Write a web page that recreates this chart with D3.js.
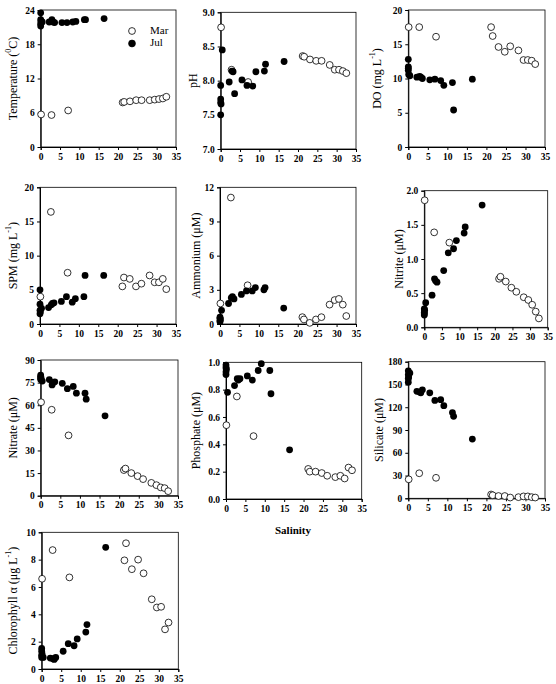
<!DOCTYPE html>
<html>
<head>
<meta charset="utf-8">
<script src="https://cdn.jsdelivr.net/npm/d3@7"></script>
<style>
  body { margin: 0; background: #fff; }
  svg { display: block; }
  text { font-family: "Liberation Serif", "Times New Roman", serif; fill: #000; }
  .tick text { font-weight: bold; font-size: 9.5px; }
  .domain, .tick line { stroke: #000; }
</style>
</head>
<body>
<div id="chart"></div>
<script>
// salinity of each sample (x values)
const salinityMar = [0.1, 2.8, 7.1, 21.2, 21.6, 23.1, 24.7, 26.1, 28.2, 29.5, 30.6, 31.6, 32.5];
const salinityJul = [0, 0, 0, 0, 0.1, 0.4, 2.2, 2.9, 3.2, 3.6, 5.5, 6.8, 8.3, 9.1, 11.3, 11.6, 16.4];

const xTicks = [0, 5, 10, 15, 20, 25, 30, 35];

const tempMar = [5.7, 5.6, 6.4, 7.8, 7.9, 8.0, 8.2, 8.2, 8.2, 8.3, 8.4, 8.5, 8.8];
const tempJul = [23.5, 22.3, 21.6, 21.2, 22.0, 21.9, 21.9, 22.3, 21.9, 21.8, 21.8, 21.8, 21.9, 22.0, 22.3, 22.3, 22.5];
const tempTicks = [0, 6, 12, 18, 24];

const phMar = [8.78, 8.16, 7.98, 8.36, 8.35, 8.31, 8.29, 8.29, 8.23, 8.16, 8.16, 8.14, 8.11];
const phJul = [7.93, 7.73, 7.68, 7.5, 7.66, 8.45, 7.98, 8.14, 8.13, 7.81, 8.01, 7.93, 7.92, 8.13, 8.14, 8.24, 8.28];
const phTicks = [7.0, 7.5, 8.0, 8.5, 9.0];

const doMar = [17.5, 17.5, 16.1, 17.5, 16.2, 14.6, 13.9, 14.7, 14.1, 12.7, 12.7, 12.6, 12.1];
const doJul = [12.8, 11.7, 11.2, 11.5, 10.6, 10.4, 10.2, 10.3, 10.2, 10.0, 9.8, 9.9, 9.7, 9.0, 9.4, 5.4, 9.9];
const doTicks = [0, 5, 10, 15, 20];

const spmMar = [4.0, 16.4, 7.5, 5.5, 6.8, 6.6, 5.5, 5.9, 7.1, 6.1, 6.1, 6.6, 5.1];
const spmJul = [5.0, 2.9, 2.0, 1.5, 1.8, 2.3, 2.4, 2.8, 3.0, 3.1, 3.3, 4.0, 3.2, 3.7, 4.0, 7.1, 7.1];
const spmTicks = [0, 5, 10, 15, 20];

const ammMar = [1.8, 11.1, 3.4, 0.6, 0.4, 0.1, 0.4, 0.6, 1.7, 2.1, 2.2, 1.7, 0.7];
const ammJul = [0.6, 0.3, 0.5, 0.2, 0.4, 1.2, 1.8, 2.3, 2.4, 2.2, 2.6, 2.9, 2.9, 3.2, 3.0, 3.2, 1.4];
const ammTicks = [0, 3, 6, 9, 12];

const nitriteMar = [1.86, 1.39, 1.24, 0.71, 0.74, 0.67, 0.58, 0.52, 0.44, 0.40, 0.33, 0.23, 0.13];
const nitriteJul = [0.18, 0.22, 0.27, 0.20, 0.25, 0.36, 0.47, 0.71, 0.68, 0.66, 0.83, 1.09, 1.15, 1.27, 1.38, 1.47, 1.79];
const nitriteTicks = [0.0, 0.5, 1.0, 1.5, 2.0];

const nitrateMar = [62, 57, 40, 17, 18, 15, 13, 11, 8.5, 7, 5.5, 5, 3];
const nitrateJul = [80, 78, 77, 79, 78, 76, 77, 73.5, 75, 75.5, 74.5, 71, 72.5, 68, 68, 64, 53];
const nitrateTicks = [0, 15, 30, 45, 60, 75, 90];

const phosMar = [0.54, 0.75, 0.46, 0.22, 0.20, 0.20, 0.19, 0.17, 0.16, 0.17, 0.15, 0.23, 0.21];
const phosJul = [0.98, 0.96, 0.93, 0.91, 0.95, 0.78, 0.83, 0.88, 0.87, 0.88, 0.90, 0.87, 0.94, 0.99, 0.94, 0.77, 0.36];
const phosTicks = [0.0, 0.2, 0.4, 0.6, 0.8, 1.0];

const silMar = [25, 33, 27, 5, 4, 3, 3, 1, 1.5, 2.5, 2.5, 1.5, 1];
const silJul = [168, 163, 158, 153, 160, 165, 141, 140, 139, 143, 139, 129, 130, 122, 113, 108, 78];
const silTicks = [0, 30, 60, 90, 120, 150, 180];

const chlMar = [6.6, 8.7, 6.7, 7.95, 9.2, 7.3, 8.0, 7.0, 5.1, 4.5, 4.55, 2.9, 3.4];
const chlJul = [1.5, 1.3, 1.0, 0.85, 1.1, 0.85, 0.8, 0.75, 0.7, 0.85, 1.3, 1.85, 1.7, 2.2, 2.7, 3.25, 8.9];
const chlTicks = [0, 2, 4, 6, 8, 10];

// label parts: [text, isSuperscript]
const panels = [
  { mar: tempMar, jul: tempJul, ticks: tempTicks, fmt: d3.format('d'), label: [['Temperature ('], ['0', 1], ['C)']],
    x0: 40.7, x1: 176, y0: 10, y1: 147, lx: 14, legend: true },
  { mar: phMar, jul: phJul, ticks: phTicks, fmt: d3.format('.1f'), label: [['pH']],
    x0: 220.7, x1: 356, y0: 12.3, y1: 149, lx: 194 },
  { mar: doMar, jul: doJul, ticks: doTicks, fmt: d3.format('d'), label: [['DO (mg L'], ['-1', 1], [')']],
    x0: 408.3, x1: 545, y0: 10, y1: 147, lx: 378 },
  { mar: spmMar, jul: spmJul, ticks: spmTicks, fmt: d3.format('d'), label: [['SPM (mg L'], ['-1', 1], [')']],
    x0: 40, x1: 176, y0: 187.3, y1: 324, lx: 14 },
  { mar: ammMar, jul: ammJul, ticks: ammTicks, fmt: d3.format('d'), label: [['Ammonium (\u03bcM)']],
    x0: 220, x1: 356, y0: 187.3, y1: 324, lx: 197 },
  { mar: nitriteMar, jul: nitriteJul, ticks: nitriteTicks, fmt: d3.format('.1f'), label: [['Nitrite (\u03bcM)']],
    x0: 424.3, x1: 547.7, y0: 190.7, y1: 327.3, lx: 400 },
  { mar: nitrateMar, jul: nitrateJul, ticks: nitrateTicks, fmt: d3.format('d'), label: [['Nitrate (\u03bcM)']],
    x0: 40.7, x1: 178, y0: 360, y1: 495.7, lx: 14 },
  { mar: phosMar, jul: phosJul, ticks: phosTicks, fmt: d3.format('.1f'), label: [['Phosphate (\u03bcM)']],
    x0: 226, x1: 361.7, y0: 362.3, y1: 499, lx: 197 },
  { mar: silMar, jul: silJul, ticks: silTicks, fmt: d3.format('d'), label: [['Silicate (\u03bcM)']],
    x0: 408.3, x1: 545, y0: 361.7, y1: 498.3, lx: 380 },
  { mar: chlMar, jul: chlJul, ticks: chlTicks, fmt: d3.format('d'), label: [['Chlorophyll \u03b1 (\u03bcg L'], ['-1', 1], [')']],
    x0: 41.7, x1: 178.3, y0: 532.3, y1: 669, lx: 14 }
];

const width = 556;
const height = 684;
const r = 3.4;

const svg = d3.select('#chart').append('svg').attr('width', width).attr('height', height);

panels.forEach((p) => {
  const x = d3.scaleLinear().domain([0, 35]).range([p.x0, p.x1]);
  const y = d3.scaleLinear().domain(d3.extent(p.ticks)).range([p.y1, p.y0]);
  const g = svg.append('g');

  // box
  g.append('rect')
    .attr('x', p.x0).attr('y', p.y0)
    .attr('width', p.x1 - p.x0).attr('height', p.y1 - p.y0)
    .attr('fill', 'none').attr('stroke', '#000').attr('stroke-width', 0.8);

  g.append('g')
    .attr('transform', `translate(0, ${p.y1})`)
    .call(d3.axisBottom(x).tickValues(xTicks).tickSize(3).tickPadding(3));

  g.append('g')
    .attr('transform', `translate(${p.x0}, 0)`)
    .call(d3.axisLeft(y).tickValues(p.ticks).tickFormat(p.fmt).tickSize(3).tickPadding(3));

  // y label
  const label = g.append('text')
    .attr('transform', `translate(${p.lx}, ${(p.y0 + p.y1) / 2}) rotate(-90)`)
    .attr('text-anchor', 'middle')
    .attr('dominant-baseline', 'middle')
    .style('font-size', '12px');
  p.label.forEach(([t, sup]) => {
    label.append('tspan')
      .attr('dy', sup ? -5 : (label.selectAll('tspan').size() > 1 ? 5 : 0))
      .style('font-size', sup ? '8px' : null)
      .text(t);
  });

  g.append('g').selectAll('circle.mar')
    .data(p.mar)
    .join('circle')
    .attr('class', 'mar')
    .attr('cx', (d, i) => x(salinityMar[i]))
    .attr('cy', (d) => y(d))
    .attr('r', r)
    .attr('fill', '#fff')
    .attr('stroke', '#000')
    .attr('stroke-width', 0.8);

  g.append('g').selectAll('circle.jul')
    .data(p.jul)
    .join('circle')
    .attr('class', 'jul')
    .attr('cx', (d, i) => x(salinityJul[i]))
    .attr('cy', (d) => y(d))
    .attr('r', r)
    .attr('fill', '#000');

  if (p.legend) {
    const leg = g.append('g');
    [['Mar', '#fff'], ['Jul', '#000']].forEach(([name, fill], i) => {
      leg.append('circle')
        .attr('cx', 132).attr('cy', 31 + i * 12.5).attr('r', r)
        .attr('fill', fill).attr('stroke', '#000').attr('stroke-width', 0.8);
      leg.append('text')
        .attr('x', 150).attr('y', 31 + i * 12.5)
        .attr('dominant-baseline', 'middle')
        .style('font-size', '11px')
        .text(name);
    });
  }
});

svg.append('text')
  .attr('x', 293).attr('y', 531)
  .attr('text-anchor', 'middle')
  .attr('dominant-baseline', 'middle')
  .style('font-size', '11px')
  .style('font-weight', 'bold')
  .text('Salinity');
</script>
</body>
</html>
